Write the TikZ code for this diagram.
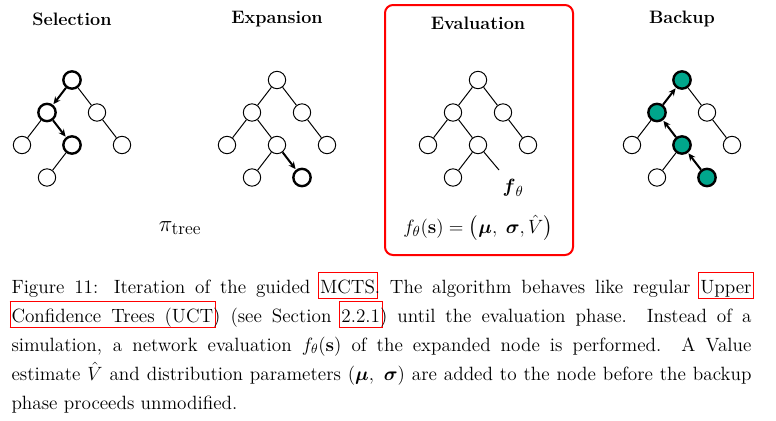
\documentclass[tikz,border=0pt]{standalone}
\usepackage{amsmath,amssymb}
\usetikzlibrary{arrows.meta}

\definecolor{bakfill}{RGB}{0,166,140}
\newcommand{\linkbox}[1]{\makebox[0pt][l]{\hspace{-1.5pt}\textcolor{red}{\setlength{\fboxsep}{0pt}\setlength{\fboxrule}{0.8pt}\fbox{\hspace{1pt}\rule[-3.7pt]{0pt}{18.9pt}\phantom{#1}\hspace{1pt}}}}#1}

\tikzset{every picture/.style={line width=0.75pt}}
\tikzset{
  vtx/.style={draw, circle, minimum size=13pt, inner sep=0pt, line width=0.75pt},
  vsel/.style={vtx, line width=1.8pt},
  vbak/.style={vsel, fill=bakfill},
  walk/.style={line width=1.5pt, -{Stealth[length=5.5pt,width=5pt]}, shorten >=0.5pt},
  phase/.style={font=\fontsize{13.5}{16}\selectfont\bfseries},
  formula/.style={font=\fontsize{15.5}{18}\selectfont},
  capline/.style={anchor=base west, inner sep=0pt, font=\fontsize{14.4}{21.75}\selectfont}
}

\begin{document}
\begin{tikzpicture}[x=0.75pt,y=0.75pt,yscale=-1,xscale=1]
\useasboundingbox (0,0) rectangle (776,421);

%Shape: Rounded Rect [evaluation frame]
\draw [color=red, line width=1.5pt, rounded corners=6] (385,5) rectangle (573,255);

% Text Node
\node [phase] (tsel) at (72,19) {Selection};
% Text Node
\node [phase] (texp) at (277,19) {Expansion};
% Text Node
\node [phase] (teva) at (478,23) {Evaluation};
% Text Node
\node [phase] (tbak) at (682,19) {Backup};

%Shape: Circles [selection tree]
\node [vsel] (s0) at (72,80) {};
\node [vsel] (s1) at (47,112.5) {};
\node [vtx] (s2) at (97,112.5) {};
\node [vtx] (s3) at (22,145) {};
\node [vsel] (s4) at (72,145) {};
\node [vtx] (s5) at (122,145) {};
\node [vtx] (s6) at (47,177.5) {};
%Straight Lines
\draw (s0) -- (s2);
\draw (s1) -- (s3);
\draw (s2) -- (s5);
\draw (s4) -- (s6);
\draw [walk] (s0) -- (s1);
\draw [walk] (s1) -- (s4);

%Shape: Circles [expansion tree]
\node [vtx] (e0) at (277,80) {};
\node [vtx] (e1) at (252,112.5) {};
\node [vtx] (e2) at (302,112.5) {};
\node [vtx] (e3) at (227,145) {};
\node [vtx] (e4) at (277,145) {};
\node [vtx] (e5) at (327,145) {};
\node [vtx] (e6) at (252,177.5) {};
\node [vsel] (e7) at (302,177.5) {};
%Straight Lines
\draw (e0) -- (e1);
\draw (e0) -- (e2);
\draw (e1) -- (e3);
\draw (e1) -- (e4);
\draw (e2) -- (e5);
\draw (e4) -- (e6);
\draw [walk] (e4) -- (e7);

%Shape: Circles [evaluation tree]
\node [vtx] (v0) at (478,80) {};
\node [vtx] (v1) at (453,112.5) {};
\node [vtx] (v2) at (503,112.5) {};
\node [vtx] (v3) at (428,145) {};
\node [vtx] (v4) at (478,145) {};
\node [vtx] (v5) at (528,145) {};
\node [vtx] (v6) at (453,177.5) {};
\coordinate (v7) at (499,170);
%Straight Lines
\draw (v0) -- (v1);
\draw (v0) -- (v2);
\draw (v1) -- (v3);
\draw (v1) -- (v4);
\draw (v2) -- (v5);
\draw (v4) -- (v6);
\draw (v4) -- (v7);

%Shape: Circles [backup tree]
\node [vbak] (b0) at (682,80) {};
\node [vbak] (b1) at (657,112.5) {};
\node [vtx] (b2) at (707,112.5) {};
\node [vtx] (b3) at (632,145) {};
\node [vbak] (b4) at (682,145) {};
\node [vtx] (b5) at (732,145) {};
\node [vtx] (b6) at (657,177.5) {};
\node [vbak] (b7) at (707,177.5) {};
%Straight Lines
\draw (b0) -- (b2);
\draw (b1) -- (b3);
\draw (b2) -- (b5);
\draw (b4) -- (b6);
\draw [walk] (b7) -- (b4);
\draw [walk] (b4) -- (b1);
\draw [walk] (b1) -- (b0);

% Text Node
\node [formula] (ftheta) at (513,188) {$\boldsymbol{f}_{\theta}$};
% Text Node
\node [formula, font=\fontsize{19}{22}\selectfont] (pitree) at (180,228) {$\pi_{\text{tree}}$};
% Text Node
\node [formula] (fout) at (478,228) {$f_{\theta}(\mathbf{s}) = \bigl(\boldsymbol{\mu},\;\boldsymbol{\sigma}, \hat{V}\bigr)$};

% Caption lines
\node [capline] (cap1) at (11,293) {\makebox[555pt][s]{Figure 11: Iteration of the guided \linkbox{MCTS}. The algorithm behaves like regular \linkbox{Upper}}};
\node [capline] (cap2) at (11,322) {\makebox[555pt][s]{\linkbox{Confidence Trees (UCT)} (see Section \linkbox{2.2.1}) until the evaluation phase.\ \ Instead of a}};
\node [capline] (cap3) at (11,351) {\makebox[555pt][s]{simulation, a network evaluation $f_{\theta}(\mathbf{s})$ of the expanded node is performed.\ \ A Value}};
\node [capline] (cap4) at (11,380) {\makebox[555pt][s]{estimate $\hat{V}$ and distribution parameters $(\boldsymbol{\mu},\;\boldsymbol{\sigma})$ are added to the node before the backup}};
\node [capline] (cap5) at (11,409) {phase proceeds unmodified.};

\end{tikzpicture}
\end{document}
